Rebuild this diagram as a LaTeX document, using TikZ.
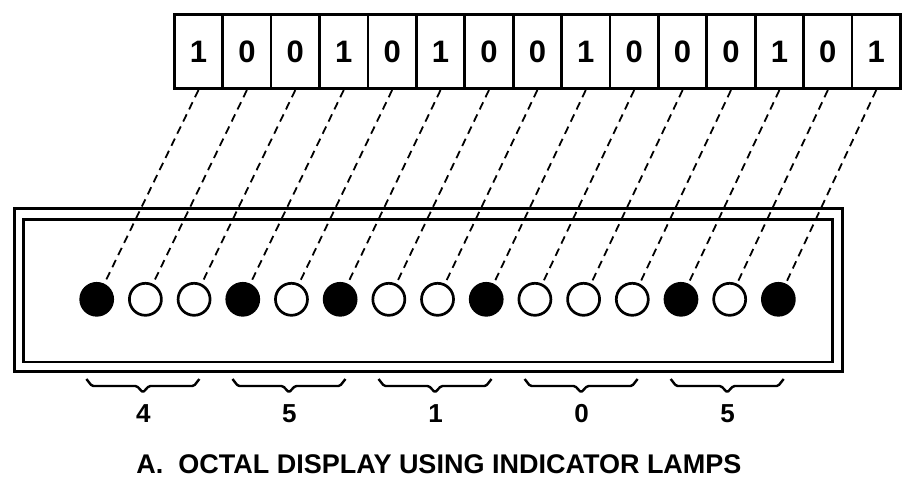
\documentclass[tikz,border=0pt]{standalone}
\usepackage{fontspec}
\setmainfont{Liberation Sans}
\begin{document}
\begin{tikzpicture}[x=1pt,y=-1pt,
  bitbox/.style={draw,line width=2.7pt,minimum width=48.41pt,minimum height=74.4pt,inner sep=0pt,font=\fontsize{31}{31}\selectfont\bfseries},
  lamp0/.style={circle,draw,line width=2.7pt,minimum size=32pt,inner sep=0pt},
  lamp1/.style={lamp0,fill=black},
  wire/.style={line width=1.8pt,dash pattern=on 8pt off 5.5pt},
  frameline/.style={line width=2.8pt},
  bracel/.style={line width=2.4pt,rounded corners=1.5pt,line join=round},
  digit/.style={inner sep=0pt,font=\fontsize{26}{26}\selectfont\bfseries},
  captionstyle/.style={inner sep=0pt,font=\fontsize{27}{27}\selectfont\bfseries},
]
\useasboundingbox (0,0) rectangle (910,477);
% display frame
\draw[frameline] (14.4,208.1) rectangle (842.6,371.3);
\draw[frameline] (23.4,219.1) rectangle (832.1,362.0);
% bit boxes and lamps
\foreach \b [count=\i] in {1,0,0,1,0,1,0,0,1,0,0,0,1,0,1} {
  \node[bitbox] (b\i) at ({198.5+(\i-1)*48.41},51.5) {\b};
  \node[lamp\b] (l\i) at ({96.7+(\i-1)*48.69},299.3) {};
}
% wires
\foreach \i in {1,...,15} {
  \draw[wire] (b\i.south) -- (l\i);
}
% braces and octal digits
\foreach \d [count=\g from 0] in {4,5,1,0,5} {
  \pgfmathsetmacro{\c}{96.7+(3*\g+1)*48.69-2.5}
  \draw[bracel] ({\c-56.5},379) -- ({\c-51},386) -- ({\c-6},386) -- (\c,392.5)
     -- ({\c+6},386) -- ({\c+51},386) -- ({\c+56.5},379);
  \node[digit] (d\g) at ({\c+0.5},414) {\d};
}
% caption
\node[captionstyle] (cap) at (439,464) {A.\ \ OCTAL DISPLAY USING INDICATOR LAMPS};
\end{tikzpicture}
\end{document}
